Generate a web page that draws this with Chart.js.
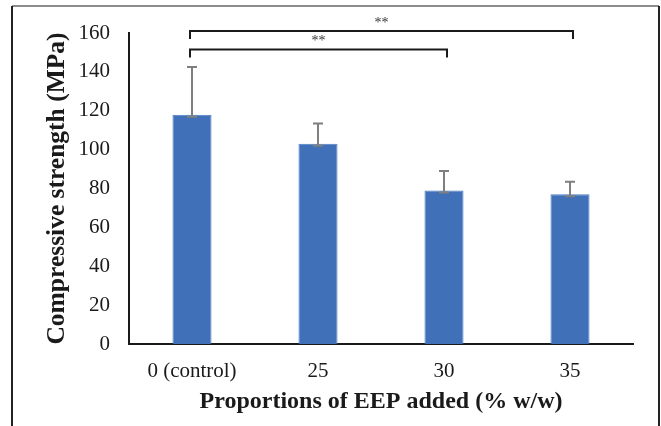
<!DOCTYPE html>
<html>
<head>
<meta charset="utf-8">
<script src="https://cdn.jsdelivr.net/npm/chart.js@4"></script>
<style>
  html, body { margin: 0; padding: 0; background: #fff; }
  #wrap { width: 661px; height: 426px; }
</style>
</head>
<body>
<div id="wrap"><canvas id="chart-strength" width="661" height="426"></canvas></div>
<script>
const CATEGORIES = ['0 (control)', '25', '30', '35'];
const STRENGTH = [118, 103, 79, 77];
const STRENGTH_ERR = [24.5, 10.5, 10, 6.5];

// significance brackets: from category, to category, level (MPa), label
const BRACKET_FROM = [0, 0];
const BRACKET_TO = [3, 2];
const BRACKET_LEVEL = [161, 151.5];
const BRACKET_LABEL = ['**', '**'];

const SERIF = '"Liberation Serif", "Times New Roman", serif';
const INK = '#1a1a1a';

Chart.defaults.font.family = SERIF;
Chart.defaults.color = INK;

// outer frame around the figure, like the pasted Excel chart box
const frame = {
  id: 'frame',
  beforeDraw(chart) {
    const { ctx } = chart;
    ctx.save();
    ctx.lineWidth = 2;
    ctx.strokeStyle = '#8c8c8c';
    ctx.beginPath(); ctx.moveTo(12, 6); ctx.lineTo(659, 6); ctx.stroke();
    ctx.strokeStyle = '#222';
    ctx.beginPath(); ctx.moveTo(12, 6); ctx.lineTo(12, 426); ctx.stroke();
    ctx.beginPath(); ctx.moveTo(659, 6); ctx.lineTo(659, 426); ctx.stroke();
    ctx.restore();
  },
};

// upward-only error bars, capped at both ends
const errorBars = {
  id: 'errorBars',
  afterDatasetsDraw(chart) {
    const { ctx, scales: { x, y } } = chart;
    ctx.save();
    ctx.strokeStyle = '#7f7f7f';
    ctx.lineWidth = 2;
    STRENGTH.forEach((v, i) => {
      const px = x.getPixelForValue(i);
      const top = y.getPixelForValue(v + STRENGTH_ERR[i]);
      const bot = y.getPixelForValue(v) + 2;
      ctx.beginPath();
      ctx.moveTo(px, top); ctx.lineTo(px, bot);
      ctx.moveTo(px - 5, top); ctx.lineTo(px + 5, top);
      ctx.moveTo(px - 5, bot); ctx.lineTo(px + 5, bot);
      ctx.stroke();
    });
    ctx.restore();
  },
};

const brackets = {
  id: 'brackets',
  afterDatasetsDraw(chart) {
    const { ctx, scales: { x, y } } = chart;
    ctx.save();
    ctx.strokeStyle = '#1a1a1a';
    ctx.fillStyle = '#333';
    ctx.lineWidth = 2;
    ctx.font = '14px ' + SERIF;
    ctx.textAlign = 'center';
    ctx.textBaseline = 'middle';
    BRACKET_LEVEL.forEach((lvl, i) => {
      const x0 = x.getPixelForValue(BRACKET_FROM[i]) - 2;
      const x1 = x.getPixelForValue(BRACKET_TO[i]) + 3;
      const py = y.getPixelForValue(lvl);
      ctx.beginPath();
      ctx.moveTo(x0, py + 8); ctx.lineTo(x0, py); ctx.lineTo(x1, py); ctx.lineTo(x1, py + 8);
      ctx.stroke();
      ctx.fillText(BRACKET_LABEL[i], (x0 + x1) / 2, py - 8);
    });
    ctx.restore();
  },
};

new Chart(document.getElementById('chart-strength'), {
  type: 'bar',
  data: {
    labels: CATEGORIES,
    datasets: [{
      label: 'Compressive strength',
      data: STRENGTH,
      backgroundColor: '#3f70b8',
      borderColor: '#4d7ec4',
      borderWidth: 1,
      categoryPercentage: 1,
      barPercentage: 0.31,
    }],
  },
  options: {
    responsive: false,
    animation: false,
    layout: { padding: { top: 33, right: 28, left: 0, bottom: 0 } },
    plugins: { legend: { display: false }, tooltip: { enabled: false } },
    scales: {
      x: {
        grid: { display: false, drawTicks: false },
        border: { color: INK, width: 2 },
        ticks: { font: { size: 21 }, padding: 15, color: INK },
        title: { display: true, text: 'Proportions of EEP added (% w/w)', font: { size: 24, weight: 'bold' }, padding: { top: 0, bottom: 10 }, color: INK },
        afterFit: s => { s.height = 82; },
      },
      y: {
        min: 0, max: 160,
        grid: { display: false, drawTicks: false },
        border: { color: INK, width: 2 },
        ticks: { stepSize: 20, font: { size: 21 }, padding: 19, color: INK },
        title: { display: true, text: 'Compressive strength (MPa)', font: { size: 25.5, weight: 'bold' }, padding: { top: 42, bottom: 0 }, color: INK },
        afterFit: s => { s.width = 129; },
      },
    },
  },
  plugins: [frame, errorBars, brackets],
});
</script>
</body>
</html>
